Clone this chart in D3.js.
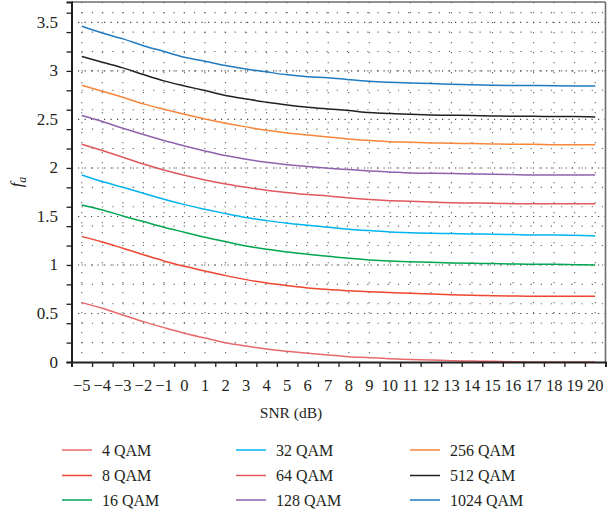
<!DOCTYPE html>
<html>
<head>
<meta charset="utf-8">
<script src="https://cdn.jsdelivr.net/npm/d3@7"></script>
<style>
  html, body { margin: 0; padding: 0; background: #fff; }
  svg { display: block; }
</style>
</head>
<body>
<svg id="chart" width="607" height="515"></svg>
<script>
// ---- data ----
const snr = [-5,-4,-3,-2,-1,0,1,2,3,4,5,6,7,8,9,10,11,12,13,14,15,16,17,18,19,20];
const seriesNames = ["4 QAM","8 QAM","16 QAM","32 QAM","64 QAM","128 QAM","256 QAM","512 QAM","1024 QAM"];
const qam4    = [0.612,0.553,0.485,0.416,0.354,0.296,0.247,0.199,0.165,0.134,0.110,0.089,0.072,0.055,0.045,0.034,0.027,0.021,0.014,0.010,0.007,0.003,0.000,0.000,0.000,0.000];
const qam8    = [1.292,1.237,1.172,1.106,1.041,0.986,0.938,0.890,0.849,0.814,0.787,0.763,0.746,0.735,0.725,0.715,0.708,0.701,0.694,0.687,0.684,0.680,0.677,0.677,0.677,0.677];
const qam16   = [1.619,1.567,1.505,1.447,1.389,1.337,1.285,1.241,1.196,1.162,1.134,1.110,1.089,1.068,1.052,1.041,1.034,1.027,1.021,1.017,1.014,1.010,1.007,1.007,1.003,1.000];
const qam32   = [1.928,1.860,1.800,1.739,1.677,1.622,1.574,1.529,1.488,1.457,1.430,1.409,1.389,1.368,1.354,1.340,1.333,1.326,1.323,1.320,1.316,1.313,1.309,1.309,1.306,1.299];
const qam64   = [2.244,2.179,2.110,2.041,1.979,1.924,1.876,1.835,1.801,1.770,1.746,1.725,1.711,1.690,1.674,1.663,1.656,1.649,1.642,1.639,1.636,1.632,1.632,1.632,1.632,1.632];
const qam128  = [2.540,2.478,2.409,2.344,2.282,2.227,2.175,2.127,2.089,2.058,2.034,2.014,1.997,1.983,1.969,1.959,1.948,1.945,1.942,1.938,1.935,1.931,1.928,1.928,1.928,1.928];
const qam256  = [2.852,2.790,2.728,2.660,2.605,2.553,2.505,2.460,2.423,2.388,2.361,2.340,2.320,2.299,2.282,2.271,2.265,2.258,2.254,2.251,2.247,2.244,2.244,2.240,2.240,2.240];
const qam512  = [3.148,3.089,3.031,2.962,2.897,2.845,2.797,2.746,2.711,2.677,2.649,2.626,2.608,2.591,2.571,2.560,2.553,2.546,2.543,2.540,2.536,2.533,2.533,2.529,2.529,2.526];
const qam1024 = [3.460,3.390,3.330,3.260,3.200,3.140,3.100,3.055,3.020,2.990,2.960,2.940,2.930,2.910,2.893,2.883,2.876,2.870,2.862,2.856,2.852,2.850,2.849,2.846,2.845,2.845];
const seriesValues = [qam4,qam8,qam16,qam32,qam64,qam128,qam256,qam512,qam1024];
const seriesColors = ["#e8696b","#ef4630","#00a650","#00b4f0","#e0585d","#8e62ac","#f7863b","#231f20","#1f7bc1"];
const xTickLabels = snr;
const yTickLabels = [0,0.5,1,1.5,2,2.5,3,3.5];

// ---- layout ----
const svg = d3.select("#chart");
const ink = "#231f20";
const font = "Liberation Serif";
const x = d3.scaleLinear().domain([-5.5, 20.5]).range([71.5, 605.5]);
const y = d3.scaleLinear().domain([0, 3.71]).range([362, 2]);

// grid
const grid = svg.append("g");
grid.selectAll("line.vg").data(snr).join("line")
  .attr("x1", d => x(d)).attr("x2", d => x(d))
  .attr("y1", y(3.71)).attr("y2", y(0))
  .attr("stroke", "#666").attr("stroke-width", 1.1)
  .attr("stroke-dasharray", "1.2,8.8");
const minorY = d3.range(0.2, 3.65, 0.2);
grid.selectAll("line.hg").data(minorY).join("line")
  .attr("x1", x(-5.5)).attr("x2", x(20.5))
  .attr("y1", d => y(d)).attr("y2", d => y(d))
  .attr("stroke", "#666").attr("stroke-width", 1.1)
  .attr("stroke-dasharray", "1.2,9");
grid.selectAll("line.hd").data(yTickLabels.filter(v => v > 0)).join("line")
  .attr("x1", x(-5.5)).attr("x2", x(20.5))
  .attr("y1", d => y(d)).attr("y2", d => y(d))
  .attr("stroke", "#444").attr("stroke-width", 1.1)
  .attr("stroke-dasharray", "1.2,5.3");

// frame top / right
svg.append("line").attr("x1", x(-5.5)).attr("x2", x(20.5)).attr("y1", y(3.71)).attr("y2", y(3.71))
  .attr("stroke", "#6d6e71").attr("stroke-width", 1.6);
svg.append("line").attr("x1", x(20.5)).attr("x2", x(20.5)).attr("y1", y(3.71)).attr("y2", y(0))
  .attr("stroke", "#6d6e71").attr("stroke-width", 1.6);

// curves
const line = d3.line().x((d, i) => x(snr[i])).y(d => y(d)).curve(d3.curveMonotoneX);
svg.append("g").selectAll("path").data(seriesValues).join("path")
  .attr("d", d => line(d))
  .attr("fill", "none")
  .attr("stroke", (d, i) => seriesColors[i])
  .attr("stroke-width", 1.5);

// axes
const xAxis = d3.axisBottom(x).tickValues(d3.range(-5.5, 20.6, 1)).tickSize(5).tickFormat("");
const gx = svg.append("g").attr("transform", `translate(0,${y(0)})`).call(xAxis);
gx.select(".domain").attr("stroke", ink).attr("stroke-width", 2);
gx.selectAll(".tick line").attr("stroke", ink).attr("stroke-width", 1.3);

const yAxis = d3.axisLeft(y).tickValues(d3.range(0, 3.65, 0.2)).tickSize(5).tickFormat("");
const gy = svg.append("g").attr("transform", `translate(${x(-5.5)},0)`).call(yAxis);
gy.select(".domain").attr("stroke", ink).attr("stroke-width", 2);
gy.selectAll(".tick line").attr("stroke", ink).attr("stroke-width", 1.3);

// x tick labels
svg.append("g").selectAll("text").data(xTickLabels).join("text")
  .style("font-family", font).attr("fill", ink)
  .attr("x", d => x(d)).attr("y", 391)
  .attr("text-anchor", "middle").attr("font-size", 16.5)
  .text(d => d < 0 ? "\u2212" + Math.abs(d) : String(d));

// y tick labels
svg.append("g").selectAll("text").data(yTickLabels).join("text")
  .style("font-family", font).attr("fill", ink)
  .attr("x", 58).attr("y", d => y(d) + 5.5)
  .attr("text-anchor", "end").attr("font-size", 17)
  .text(d => String(d));

// axis titles
svg.append("text").style("font-family", font).attr("fill", ink)
  .attr("x", 291).attr("y", 418).attr("text-anchor", "middle")
  .attr("font-size", 15.5).text("SNR (dB)");
const yt = svg.append("text").style("font-family", font).attr("fill", ink)
  .attr("transform", "translate(22,182) rotate(-90)")
  .attr("text-anchor", "middle").attr("font-size", 17);
yt.append("tspan").attr("font-style", "italic").text("f");
yt.append("tspan").attr("font-style", "italic").attr("font-size", 12).attr("dy", 4).text("a");

// legend
const legendCols = [62, 236, 410];
const legendRows = [450, 475.5, 500];
const leg = svg.append("g").selectAll("g").data(seriesNames).join("g")
  .attr("transform", (d, i) => `translate(${legendCols[Math.floor(i / 3)]},${legendRows[i % 3]})`);
leg.append("line").attr("x1", 0).attr("x2", 30).attr("y1", 0).attr("y2", 0)
  .attr("stroke", (d, i) => seriesColors[i]).attr("stroke-width", 1.5);
leg.append("text").style("font-family", font).attr("fill", ink)
  .attr("x", 40).attr("y", 5.5).attr("font-size", 16).text(d => d);
</script>
</body>
</html>
